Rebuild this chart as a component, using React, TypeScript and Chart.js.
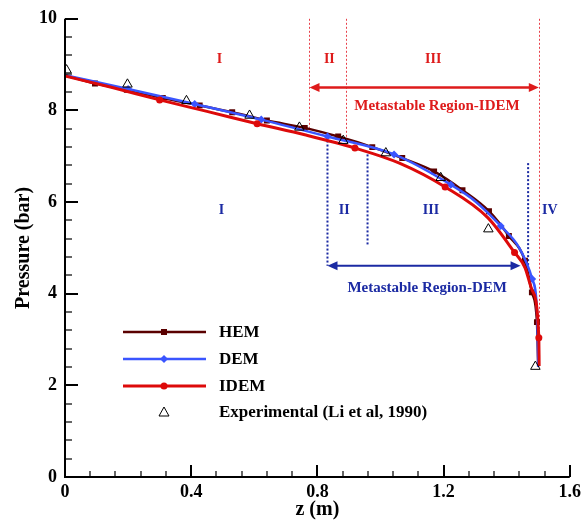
import React, { useEffect, useRef } from 'react';
import { Chart, registerables } from 'chart.js';

Chart.register(...registerables);

const SERIF = '"Liberation Serif", "Times New Roman", serif';

// Axis ranges and tick steps
const zMin = 0, zMax = 1.6, zMajor = 0.4, zMinorPerMajor = 5;
const pMin = 0, pMax = 10, pMajor = 2, pMinorPerMajor = 5;

// HEM: marked points and extra curve points
const hemMarkZ = [0.095, 0.196, 0.31, 0.427, 0.53, 0.64, 0.76, 0.866, 0.974, 1.069, 1.17, 1.26, 1.344, 1.407, 1.458, 1.48, 1.496];
const hemMarkP = [8.59, 8.45, 8.27, 8.11, 7.96, 7.78, 7.62, 7.43, 7.2, 6.96, 6.67, 6.26, 5.8, 5.26, 4.72, 4.03, 3.38];
const hemExtraZ = [0, 1.5];
const hemExtraP = [8.77, 2.43];

// DEM
const demMarkZ = [0.2, 0.411, 0.622, 0.832, 1.043, 1.223, 1.381, 1.481];
const demMarkP = [8.47, 8.14, 7.8, 7.43, 7.04, 6.38, 5.48, 4.32];
const demExtraZ = [0, 1.3, 1.44, 1.497, 1.5];
const demExtraP = [8.77, 6.02, 5.0, 3.5, 2.4];

// IDEM
const idemMarkZ = [0.3, 0.609, 0.919, 1.205, 1.425, 1.502];
const idemMarkP = [8.23, 7.71, 7.18, 6.33, 4.9, 3.04];
const idemExtraZ = [0, 0.15, 0.45, 0.76, 1.06, 1.34, 1.458, 1.481, 1.503];
const idemExtraP = [8.75, 8.5, 7.98, 7.47, 6.85, 5.66, 4.57, 4.07, 2.42];

// Experimental (Li et al, 1990)
const expZ = [0.005, 0.198, 0.385, 0.585, 0.743, 0.882, 1.017, 1.191, 1.342, 1.491];
const expP = [8.88, 8.57, 8.21, 7.89, 7.63, 7.34, 7.07, 6.53, 5.41, 2.41];

// Region boundaries (IDEM, red): z, top pressure, bottom pressure
const idemBoundZ = [0.775, 0.892, 1.502];
const idemBoundTop = [10, 10, 10];
const idemBoundBottom = [7.62, 7.35, 3.0];
const idemArrowZ = [0.775, 1.502];
const idemArrowP = 8.5;
const idemRegionLabels = ['I', 'II', 'III'];
const idemRegionZ = [0.49, 0.838, 1.167];
const idemRegionP = 9.11;
const idemCaption = 'Metastable Region-IDEM';
const idemCaptionAt = [1.179, 8.09];

// Region boundaries (DEM, blue)
const demBoundZ = [0.832, 0.959, 1.468];
const demBoundTop = [7.43, 7.04, 6.85];
const demBoundBottom = [4.61, 5.04, 4.57];
const demArrowZ = [0.832, 1.444];
const demArrowP = 4.61;
const demRegionLabels = ['I', 'II', 'III', 'IV'];
const demRegionZ = [0.496, 0.885, 1.16, 1.537];
const demRegionP = 5.82;
const demCaption = 'Metastable Region-DEM';
const demCaptionAt = [1.148, 4.13];

const seriesNames = ['HEM', 'DEM', 'IDEM', 'Experimental (Li et al, 1990)'];

const HEM_COLOR = '#5a0000';
const DEM_COLOR = '#3a55ff';
const IDEM_COLOR = '#dd0a0a';
const RED_NOTE = '#de1b1b';
const BLUE_NOTE = '#1b2aa3';

const pts = (zs: number[], ps: number[]) => zs.map((z, i) => ({ x: z, y: ps[i] }));
const curve = (mz: number[], mp: number[], ez: number[], ep: number[]) =>
  [...pts(mz, mp), ...pts(ez, ep)].sort((a, b) => a.x - b.x);

function drawMarker(ctx: CanvasRenderingContext2D, kind: string, x: number, y: number, color: string) {
  ctx.save();
  ctx.fillStyle = color;
  ctx.strokeStyle = color;
  ctx.beginPath();
  if (kind === 'rect') {
    ctx.rect(x - 3, y - 3, 6, 6);
    ctx.fill();
  } else if (kind === 'diamond') {
    ctx.moveTo(x, y - 4);
    ctx.lineTo(x + 4, y);
    ctx.lineTo(x, y + 4);
    ctx.lineTo(x - 4, y);
    ctx.closePath();
    ctx.fill();
  } else if (kind === 'circle') {
    ctx.arc(x, y, 3.5, 0, Math.PI * 2);
    ctx.fill();
  } else {
    ctx.lineWidth = 1;
    ctx.moveTo(x, y - 5);
    ctx.lineTo(x + 5, y + 4);
    ctx.lineTo(x - 5, y + 4);
    ctx.closePath();
    ctx.stroke();
  }
  ctx.restore();
}

function drawArrow(ctx: CanvasRenderingContext2D, x1: number, x2: number, y: number, color: string, width: number) {
  const head = 10, half = 4.5;
  ctx.save();
  ctx.strokeStyle = color;
  ctx.fillStyle = color;
  ctx.lineWidth = width;
  ctx.beginPath();
  ctx.moveTo(x1 + head - 2, y);
  ctx.lineTo(x2 - head + 2, y);
  ctx.stroke();
  ctx.beginPath();
  ctx.moveTo(x1, y);
  ctx.lineTo(x1 + head, y - half);
  ctx.lineTo(x1 + head, y + half);
  ctx.closePath();
  ctx.fill();
  ctx.beginPath();
  ctx.moveTo(x2, y);
  ctx.lineTo(x2 - head, y - half);
  ctx.lineTo(x2 - head, y + half);
  ctx.closePath();
  ctx.fill();
  ctx.restore();
}

const decorations = {
  id: 'decorations',
  beforeDatasetsDraw(chart: any) {
    const ctx: CanvasRenderingContext2D = chart.ctx;
    const xs = chart.scales.x, ys = chart.scales.y;
    const X = (v: number) => xs.getPixelForValue(v);
    const Y = (v: number) => ys.getPixelForValue(v);
    ctx.save();

    // red dotted boundaries
    ctx.strokeStyle = '#e8404a';
    ctx.lineWidth = 1;
    ctx.setLineDash([2, 2]);
    idemBoundZ.forEach((z, i) => {
      ctx.beginPath();
      ctx.moveTo(Math.round(X(z)) + 0.5, Y(idemBoundTop[i]));
      ctx.lineTo(Math.round(X(z)) + 0.5, Y(idemBoundBottom[i]));
      ctx.stroke();
    });

    // blue dotted boundaries
    ctx.strokeStyle = BLUE_NOTE;
    ctx.lineWidth = 2;
    ctx.setLineDash([2, 2]);
    demBoundZ.forEach((z, i) => {
      ctx.beginPath();
      ctx.moveTo(X(z), Y(demBoundTop[i]));
      ctx.lineTo(X(z), Y(demBoundBottom[i]));
      ctx.stroke();
    });
    ctx.setLineDash([]);

    drawArrow(ctx, X(idemArrowZ[0]), X(idemArrowZ[1]), Y(idemArrowP), RED_NOTE, 2.5);
    drawArrow(ctx, X(demArrowZ[0]), X(demArrowZ[1]), Y(demArrowP), BLUE_NOTE, 2);

    ctx.textAlign = 'center';
    ctx.textBaseline = 'middle';
    ctx.font = `bold 14px ${SERIF}`;
    ctx.fillStyle = RED_NOTE;
    idemRegionLabels.forEach((t, i) => ctx.fillText(t, X(idemRegionZ[i]), Y(idemRegionP)));
    ctx.fillStyle = BLUE_NOTE;
    demRegionLabels.forEach((t, i) => ctx.fillText(t, X(demRegionZ[i]), Y(demRegionP)));

    ctx.font = `bold 15px ${SERIF}`;
    ctx.fillStyle = RED_NOTE;
    ctx.fillText(idemCaption, X(idemCaptionAt[0]), Y(idemCaptionAt[1]));
    ctx.fillStyle = BLUE_NOTE;
    ctx.fillText(demCaption, X(demCaptionAt[0]), Y(demCaptionAt[1]));
    ctx.restore();
  },
  afterDraw(chart: any) {
    const ctx: CanvasRenderingContext2D = chart.ctx;
    const { left, right, top, bottom } = chart.chartArea;
    const xs = chart.scales.x, ys = chart.scales.y;
    ctx.save();
    ctx.strokeStyle = '#000';

    // axis lines
    ctx.lineWidth = 2;
    ctx.beginPath();
    ctx.moveTo(left, top);
    ctx.lineTo(left, bottom);
    ctx.lineTo(right, bottom);
    ctx.stroke();

    // inward ticks
    const zCount = Math.round((zMax - zMin) / zMajor) * zMinorPerMajor;
    for (let i = 0; i <= zCount; i++) {
      const major = i % zMinorPerMajor === 0;
      const px = Math.round(xs.getPixelForValue(zMin + (i * zMajor) / zMinorPerMajor));
      ctx.lineWidth = major ? 2 : 1.2;
      ctx.beginPath();
      ctx.moveTo(px, bottom);
      ctx.lineTo(px, bottom - (major ? 12 : 6));
      ctx.stroke();
    }
    const pCount = Math.round((pMax - pMin) / pMajor) * pMinorPerMajor;
    for (let i = 0; i <= pCount; i++) {
      const major = i % pMinorPerMajor === 0;
      const py = Math.round(ys.getPixelForValue(pMin + (i * pMajor) / pMinorPerMajor));
      ctx.lineWidth = major ? 2 : 1.2;
      ctx.beginPath();
      ctx.moveTo(left, py);
      ctx.lineTo(left + (major ? 13 : 7), py);
      ctx.stroke();
    }

    // axis titles
    ctx.fillStyle = '#000';
    ctx.font = `bold 20px ${SERIF}`;
    ctx.textAlign = 'center';
    ctx.textBaseline = 'middle';
    ctx.fillText('z (m)', (left + right) / 2, 510);
    ctx.save();
    ctx.translate(24, (top + bottom) / 2);
    ctx.rotate(-Math.PI / 2);
    ctx.fillText('Pressure (bar)', 0, 0);
    ctx.restore();

    // legend
    const rows = [332, 359, 386, 412];
    const colors = [HEM_COLOR, DEM_COLOR, IDEM_COLOR, '#000'];
    const kinds = ['rect', 'diamond', 'circle', 'triangle'];
    ctx.font = `bold 17px ${SERIF}`;
    ctx.textAlign = 'left';
    seriesNames.forEach((name, i) => {
      if (i < 3) {
        ctx.strokeStyle = colors[i];
        ctx.lineWidth = i === 2 ? 3 : 2.5;
        ctx.beginPath();
        ctx.moveTo(123, rows[i]);
        ctx.lineTo(206, rows[i]);
        ctx.stroke();
      }
      drawMarker(ctx, kinds[i], 164, rows[i], colors[i]);
      ctx.fillStyle = '#000';
      ctx.fillText(name, 219, rows[i] + 1);
    });
    ctx.restore();
  },
};

export default function App() {
  const canvasRef = useRef<HTMLCanvasElement>(null);

  useEffect(() => {
    const canvas = canvasRef.current;
    if (!canvas) return;
    Chart.defaults.font.family = SERIF;

    const lineSet = (data: any[], color: string, width: number, order: number) => ({
      data,
      showLine: true,
      borderColor: color,
      borderWidth: width,
      pointRadius: 0,
      cubicInterpolationMode: 'monotone',
      fill: false,
      order,
    });
    const markSet = (data: any[], color: string, style: string, radius: number, order: number) => ({
      data,
      showLine: false,
      pointStyle: style,
      pointRadius: radius,
      pointBackgroundColor: color,
      pointBorderColor: color,
      pointBorderWidth: 0,
      order,
    });

    const chart = new Chart(canvas, {
      type: 'scatter',
      data: {
        datasets: [
          {
            data: pts(expZ, expP),
            showLine: false,
            pointStyle: 'triangle',
            pointRadius: 5.5,
            pointBackgroundColor: 'rgba(0,0,0,0)',
            pointBorderColor: '#000',
            pointBorderWidth: 1,
            order: 0,
          },
          markSet(pts(idemMarkZ, idemMarkP), IDEM_COLOR, 'circle', 3.5, 1),
          lineSet(curve(idemMarkZ, idemMarkP, idemExtraZ, idemExtraP), IDEM_COLOR, 3, 2),
          markSet(pts(demMarkZ, demMarkP), DEM_COLOR, 'rectRot', 4, 3),
          lineSet(curve(demMarkZ, demMarkP, demExtraZ, demExtraP), DEM_COLOR, 2.5, 4),
          markSet(pts(hemMarkZ, hemMarkP), HEM_COLOR, 'rect', 4.2, 5),
          lineSet(curve(hemMarkZ, hemMarkP, hemExtraZ, hemExtraP), HEM_COLOR, 2.5, 6),
        ] as any,
      },
      options: {
        responsive: false,
        maintainAspectRatio: false,
        animation: false,
        layout: { padding: { top: 17, right: 15, left: 0, bottom: 0 } },
        plugins: { legend: { display: false }, tooltip: { enabled: false } },
        scales: {
          x: {
            type: 'linear',
            min: zMin,
            max: zMax,
            grid: { display: false, drawTicks: false },
            border: { display: false },
            ticks: {
              stepSize: zMajor,
              padding: 5,
              maxRotation: 0,
              color: '#000',
              font: { family: SERIF, size: 18, weight: 'bold' },
              callback: (v: any) => (Number(v) === 0 ? '0' : Number(v).toFixed(1)),
            },
            afterFit: (s: any) => {
              s.height = 47;
            },
          },
          y: {
            type: 'linear',
            min: pMin,
            max: pMax,
            grid: { display: false, drawTicks: false },
            border: { display: false },
            ticks: {
              stepSize: pMajor,
              padding: 8,
              color: '#000',
              font: { family: SERIF, size: 18, weight: 'bold' },
              callback: (v: any) => String(Math.round(Number(v))),
            },
            afterFit: (s: any) => {
              s.width = 65;
            },
          },
        },
      } as any,
      plugins: [decorations],
    });

    return () => chart.destroy();
  }, []);

  return (
    <div style={{ position: 'fixed', left: 0, top: 0, width: 586, height: 524, background: '#fff' }}>
      <canvas ref={canvasRef} width={586} height={524} style={{ display: 'block' }} />
    </div>
  );
}
